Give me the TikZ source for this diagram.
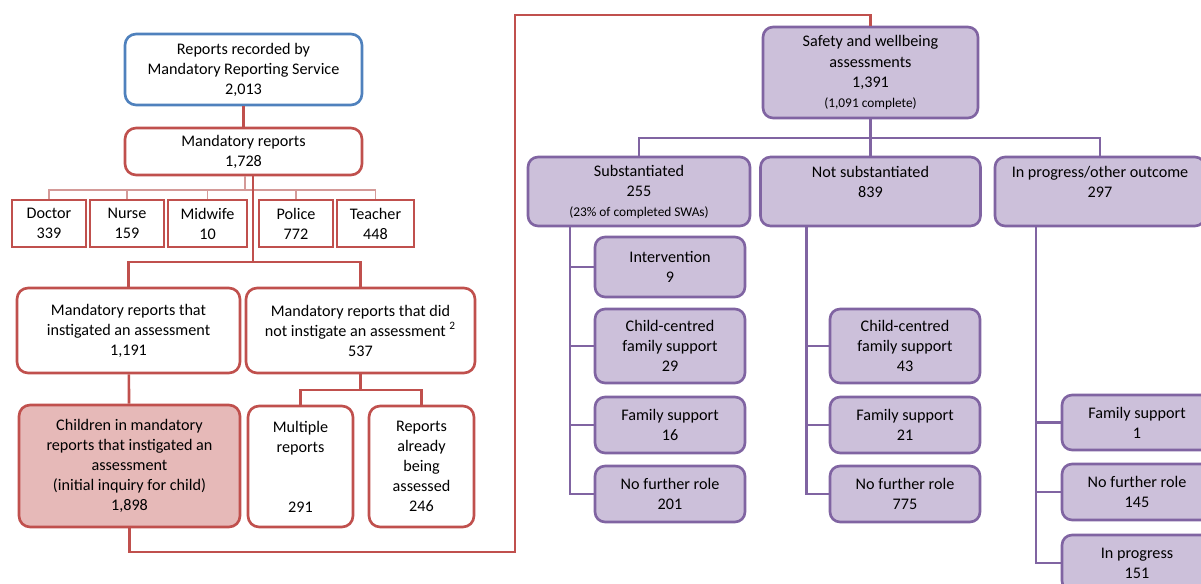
\documentclass[tikz,border=0pt]{standalone}
\usepackage{fontspec}
\setmainfont{Carlito}
\definecolor{bluebox}{HTML}{4F81BD}
\definecolor{redbox}{HTML}{C0504D}
\definecolor{redthin}{HTML}{D49A98}
\definecolor{pinkfill}{HTML}{E6B9B8}
\definecolor{purplebox}{HTML}{8064A2}
\definecolor{purplefill}{HTML}{CCC0DA}

\begin{document}
\begin{tikzpicture}[x=0.02cm,y=-0.02cm,
	font=\fontsize{9.2}{11.4}\selectfont,
	box/.style={draw=redbox,line width=1.5pt,fill=white,rounded corners=0.22cm,align=center,inner sep=1pt},
	profbox/.style={draw=redbox,line width=1.5pt,fill=white,align=center,minimum height=0.94cm,inner sep=1pt},
	swabox/.style={draw=purplebox,line width=1.5pt,fill=purplefill,rounded corners=0.2cm,align=center,inner sep=1pt},
	redline/.style={draw=redbox,line width=1.5pt},
	thinline/.style={draw=redthin,line width=0.7pt},
	purpleline/.style={draw=purplebox,line width=1.3pt}]
\clip (0,0) rectangle (1201,584);

\node[box,draw=bluebox,minimum width=4.74cm,minimum height=1.42cm] (rep) at (243.5,69.5) {Reports recorded by\\Mandatory Reporting Service\\2,013};
\node[box,minimum width=4.74cm,minimum height=0.94cm] (mand) at (243.5,151.5) {Mandatory reports\\1,728};
\foreach \id/\name/\num/\xc/\w in {
	doc/Doctor/339/49/1.48,
	nur/Nurse/159/127/1.48,
	mid/Midwife/10/207.5/1.58,
	pol/Police/772/296/1.48,
	tea/Teacher/448/375.5/1.54%
	}{
	\node[profbox,minimum width=\w cm] (\id) at (\xc,223.5) {\name\\\num};
	}
\node[box,minimum width=4.46cm,minimum height=1.7cm] (inst) at (128.5,330.5) {Mandatory reports that\\instigated an assessment\\1,191};
\node[box,minimum width=4.58cm,minimum height=1.7cm] (notinst) at (360.5,330.5) {Mandatory reports that did\\not instigate an assessment \textsuperscript{2}\\537};
\node[box,fill=pinkfill,minimum width=4.42cm,minimum height=2.44cm] (child) at (129.5,466) {Children in mandatory\\reports that instigated an\\assessment\\(initial inquiry for child)\\1,898};
\node[box,minimum width=2.1cm,minimum height=2.42cm] (multi) at (300.5,466.5) {Multiple\\reports\\~\\~\\291};
\node[box,minimum width=2.1cm,minimum height=2.42cm] (already) at (421.5,466.5) {Reports\\already\\being\\assessed\\246};

\draw[redline] (rep) -- (mand);
\coordinate (profbar) at (245,190);
\draw[thinline] (mand.south -| profbar) -- (profbar);
\foreach \id in {doc,nur,mid,pol,tea}
	\draw[thinline] (\id.north) |- (profbar);
\coordinate (splitbar) at (253,262);
\draw[redline] (mand.south -| splitbar) -- (splitbar);
\draw[redline] (inst.north) |- (splitbar) -| (notinst.north);
\draw[redline] (inst) -- (child);
\coordinate (nibar) at (360.5,390);
\draw[redline] (notinst) -- (nibar);
\draw[redline] (multi.north) |- (nibar) -| (already.north);

\node[swabox,minimum width=4.3cm,minimum height=1.82cm] (swa) at (870.5,72.5) {Safety and wellbeing\\assessments\\1,391\\{\fontsize{7.6}{9}\selectfont(1,091 complete)}};
\node[swabox,minimum width=4.44cm,minimum height=1.38cm] (sub) at (639,191.5) {Substantiated\\255\\{\fontsize{7.6}{9}\selectfont(23\% of completed SWAs)}};
\node[swabox,minimum width=4.4cm,minimum height=1.38cm] (notsub) at (870.5,191.5) {Not substantiated\\839\\~};
\node[swabox,minimum width=4.2cm,minimum height=1.38cm] (prog) at (1100,191.5) {In progress/other outcome\\297\\~};
\foreach \id/\txt/\xc/\yc/\h in {
	int/{Intervention\\9}/670/267/1.2,
	ccfsa/{Child-centred\\family support\\29}/670/346/1.48,
	fsa/{Family support\\16}/670/425/1.12,
	nfra/{No further role\\201}/670/494/1.12,
	ccfsb/{Child-centred\\family support\\43}/905/346/1.48,
	fsb/{Family support\\21}/905/425/1.12,
	nfrb/{No further role\\775}/905/494/1.12,
	fsc/{Family support\\1}/1137/422.5/1.1,
	nfrc/{No further role\\145}/1137/492/1.12,
	inpc/{In progress\\151}/1137/563/1.12%
	}{
	\node[swabox,minimum width=3cm,minimum height=\h cm] (\id) at (\xc,\yc) {\txt};
	}

\coordinate (loopa) at (515,552);
\coordinate (loopb) at (515,15);
\draw[redline] (child.south) |- (loopa) -- (loopb) -| (swa.north);

\coordinate (swabar) at (870.5,138);
\draw[purpleline] (swa) -- (swabar);
\draw[purpleline] (sub.north) |- (swabar) -| (prog.north);
\draw[purpleline] (notsub) -- (swabar);
\foreach \up/\kid/\dx in {
	sub/int/-1.38, sub/ccfsa/-1.38, sub/fsa/-1.38, sub/nfra/-1.38,
	notsub/ccfsb/-1.28, notsub/fsb/-1.28, notsub/nfrb/-1.28,
	prog/fsc/-1.28, prog/nfrc/-1.28, prog/inpc/-1.28%
	}{
	\draw[purpleline] ([xshift=\dx cm]\up.south) |- (\kid.west);
	}
\end{tikzpicture}
\end{document}
